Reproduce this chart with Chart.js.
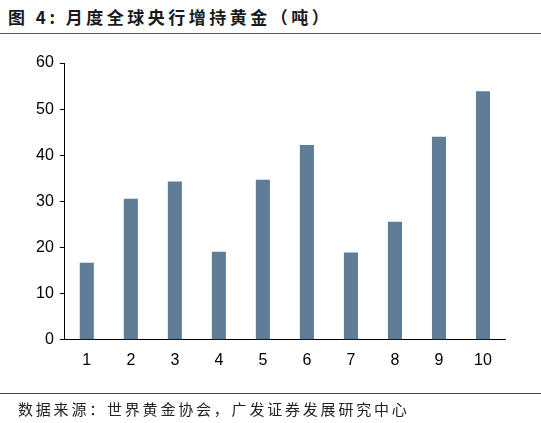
<!DOCTYPE html>
<html><head><meta charset="utf-8">
<script src="https://cdn.jsdelivr.net/npm/chart.js@4"></script>
<style>
body{margin:0;width:541px;height:423px;background:#fff;position:relative;overflow:hidden;font-family:"Noto Sans CJK SC",sans-serif}
#t{position:absolute;left:8px;top:4px;font-size:17px;font-weight:bold;color:#1a1a1a;letter-spacing:3.5px}
#l1{position:absolute;left:0;top:33px;width:541px;height:1px;background:#3b5e8c}
#l2{position:absolute;left:0;top:393px;width:541px;height:1px;background:#444}
#s{position:absolute;left:18px;top:398px;font-size:15px;color:#222;letter-spacing:2.8px}
#w{position:absolute;left:0;top:0;width:541px;height:423px}
</style></head><body>
<div id="t">图 4:&nbsp;月度全球央行增持黄金（吨）</div>
<div id="l1"></div>
<div id="w"><canvas id="c"></canvas></div>
<div id="l2"></div>
<div id="s">数据来源：世界黄金协会，广发证券发展研究中心</div>
<script>
const categories=["1","2","3","4","5","6","7","8","9","10"];
const values=[16.7,30.6,34.3,19.1,34.7,42.2,18.9,25.6,44.0,53.9];
const yTicks=[0,10,20,30,40,50,60];
new Chart(document.getElementById('c'),{type:'bar',
data:{labels:categories,datasets:[{data:values,backgroundColor:'#607d98',barPercentage:0.32,categoryPercentage:1}]},
options:{responsive:true,maintainAspectRatio:false,animation:false,
layout:{padding:{left:30,right:36,top:63,bottom:50}},
plugins:{legend:{display:false},tooltip:{enabled:false}},
scales:{x:{grid:{display:false},border:{color:'#000'},ticks:{color:'#000',font:{family:'Liberation Sans',size:16}}},
y:{min:0,max:60,afterBuildTicks:a=>{a.ticks=yTicks.map(v=>({value:v}))},
grid:{drawOnChartArea:false,tickLength:5,color:'#000'},border:{color:'#000'},
ticks:{color:'#000',padding:6,font:{family:'Liberation Sans',size:16}}}}}});
</script></body></html>
